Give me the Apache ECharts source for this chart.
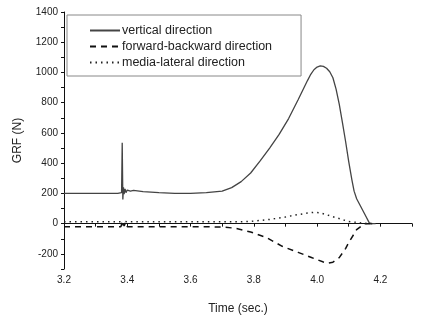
<!DOCTYPE html>
<html>
<head>
<meta charset="utf-8">
<script src="https://cdn.jsdelivr.net/npm/echarts@6/dist/echarts.min.js"></script>
<style>
  html, body { margin: 0; padding: 0; background: #fff; }
  #grfChart { width: 421px; height: 321px; }
</style>
</head>
<body>
<div id="grfChart"></div>
<script>
// 数据：时间 (秒) 与地面反作用力 (N)
const seriesNames = ['vertical direction', 'forward-backward direction', 'media-lateral direction'];

const vertTime = [3.2, 3.30, 3.37, 3.382, 3.384, 3.386, 3.388, 3.390, 3.393, 3.396, 3.40, 3.41, 3.42, 3.45, 3.50, 3.55, 3.60, 3.65, 3.70, 3.73, 3.76, 3.79, 3.82, 3.85, 3.88, 3.91, 3.94, 3.96, 3.97, 3.98, 3.99, 4.00, 4.01, 4.02, 4.03, 4.04, 4.05, 4.06, 4.07, 4.08, 4.09, 4.10, 4.11, 4.117, 4.125, 4.135, 4.15, 4.165, 4.175, 4.185];
const vertForce = [200, 200, 200, 205, 535, 160, 240, 195, 230, 205, 222, 215, 220, 212, 205, 200, 200, 205, 215, 238, 278, 335, 415, 500, 590, 695, 820, 905, 948, 988, 1018, 1036, 1043, 1040, 1028, 1005, 965, 890, 790, 670, 545, 410, 290, 215, 165, 125, 65, 5, 0, 0];

const fbTime = [3.2, 3.38, 3.385, 3.39, 3.395, 3.40, 3.50, 3.60, 3.70, 3.74, 3.79, 3.84, 3.89, 3.94, 3.98, 4.00, 4.02, 4.035, 4.05, 4.07, 4.09, 4.10, 4.125, 4.15, 4.165, 4.185];
const fbForce = [-20, -20, 20, -15, 10, -20, -20, -20, -22, -30, -55, -92, -150, -190, -222, -238, -254, -262, -255, -225, -165, -125, -40, 0, 0, 0];

const mlTime = [3.2, 3.38, 3.385, 3.39, 3.40, 3.60, 3.75, 3.79, 3.84, 3.89, 3.94, 3.97, 3.99, 4.01, 4.05, 4.10, 4.14, 4.165, 4.185];
const mlForce = [12, 12, -10, 15, 12, 12, 12, 15, 25, 40, 60, 70, 75, 72, 46, 14, 5, 0, 0];

const xLabels = ['3.2', '3.4', '3.6', '3.8', '4.0', '4.2'];
const yLabels = ['-200', '0', '200', '400', '600', '800', '1000', '1200', '1400'];

(function () {
  const chartDom = document.getElementById('grfChart');
  const myChart = echarts.init(chartDom);

  function pairs(t, v) {
    return t.map((x, i) => [x, v[i]]);
  }

  const font = 'Liberation Sans, Arial, sans-serif';

  myChart.setOption({
    animation: false,
    backgroundColor: '#fff',
    textStyle: { fontFamily: font },
    grid: { left: 64, right: 9, top: 12, bottom: 52 },
    legend: {
      orient: 'vertical',
      left: 67, top: 15,
      padding: [9, 29, 7, 22],
      itemGap: 3,
      itemWidth: 30, itemHeight: 13,
      borderColor: '#888', borderWidth: 1,
      itemStyle: { opacity: 0 },
      textStyle: { fontSize: 12.5, color: '#222', fontFamily: font, padding: [0, 0, 0, -3] },
      data: seriesNames
    },
    xAxis: {
      type: 'value',
      min: 3.2, max: 4.3, interval: 0.1,
      name: 'Time (sec.)',
      nameLocation: 'middle', nameGap: 34,
      nameTextStyle: { fontSize: 12, color: '#222' },
      axisLine: { lineStyle: { color: '#111', width: 1 } },
      axisTick: { length: 3, inside: false, lineStyle: { color: '#111' } },
      axisLabel: {
        fontSize: 10, color: '#222', margin: 6,
        formatter: v => {
          const s = v.toFixed(1);
          return xLabels.includes(s) ? s : '';
        }
      },
      splitLine: { show: false }
    },
    yAxis: {
      type: 'value',
      min: -300, max: 1400, interval: 100,
      name: 'GRF (N)',
      nameLocation: 'middle', nameGap: 40,
      nameTextStyle: { fontSize: 12, color: '#222' },
      axisLine: { show: true, lineStyle: { color: '#111', width: 1 } },
      axisTick: { show: true, length: 3, lineStyle: { color: '#111' } },
      axisLabel: {
        fontSize: 10, color: '#222', margin: 6,
        formatter: v => (yLabels.includes(String(v)) ? String(v) : '')
      },
      splitLine: { show: false }
    },
    series: [
      {
        name: seriesNames[0], type: 'line', symbol: 'none',
        data: pairs(vertTime, vertForce),
        lineStyle: { color: '#444', width: 1.3 },
        itemStyle: { color: '#444' }
      },
      {
        name: seriesNames[1], type: 'line', symbol: 'none',
        data: pairs(fbTime, fbForce),
        lineStyle: { color: '#111', width: 1.5, type: [6, 5] },
        itemStyle: { color: '#111' }
      },
      {
        name: seriesNames[2], type: 'line', symbol: 'none',
        data: pairs(mlTime, mlForce),
        lineStyle: { color: '#222', width: 1.5, type: [1.5, 4] },
        itemStyle: { color: '#222' }
      }
    ]
  });
})();
</script>
</body>
</html>
